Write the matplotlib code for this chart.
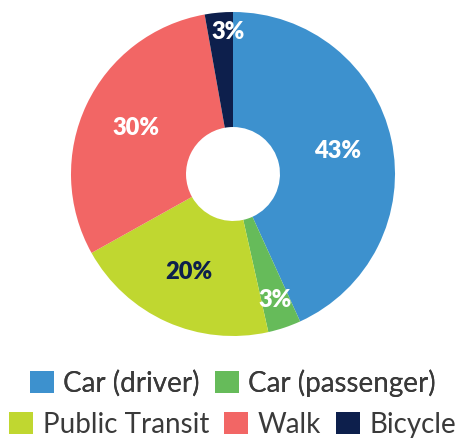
import numpy as np
import matplotlib.pyplot as plt
from matplotlib.patches import Patch

modes = ["Car (driver)", "Car (passenger)", "Public Transit", "Walk", "Bicycle"]
shares = [43.2, 3.3, 20.4, 30.3, 2.8]
colors = ["#3d91ce", "#66bb5a", "#c0d730", "#f26665", "#0d1f4c"]
label_colors = ["white", "white", "#0d1f4c", "white", "white"]
label_radius = [0.66, 0.82, 0.66, 0.66, 0.88]

plt.rcParams["font.family"] = ["Lato", "DejaVu Sans"]

fig = plt.figure(figsize=(4.66, 4.42), dpi=100)
ax = fig.add_axes([71 / 466, 106 / 442, 324 / 466, 324 / 442])

wedges, _ = ax.pie(shares, colors=colors, startangle=90, counterclock=False,
                   radius=1, wedgeprops=dict(width=0.71, linewidth=0))
ax.set_xlim(-1, 1)
ax.set_ylim(-1, 1)
ax.axis("off")

for i, (w, v, c, r) in enumerate(zip(wedges, shares, label_colors, label_radius)):
    mid = np.deg2rad((w.theta1 + w.theta2) / 2)
    x, y = r * np.cos(mid), r * np.sin(mid)
    if i == 4:
        x += 0.05  # label sits a bit right of the thin slice in the original
    ax.text(x, y, f"{round(v)}%", ha="center", va="center", fontsize=17,
            fontweight="heavy", color=c)

handles = [Patch(facecolor=c, edgecolor="none") for c in colors]
kw = dict(loc="center", frameon=False, fontsize=20, handlelength=0.85, handleheight=0.85,
          handletextpad=0.35, columnspacing=0.55, borderpad=0, labelcolor="#3a3a3a")
leg1 = fig.legend(handles[:2], modes[:2], bbox_to_anchor=(0.5, 1 - 383 / 442), ncol=2, **kw)
fig.add_artist(leg1)
fig.legend(handles[2:], modes[2:], bbox_to_anchor=(0.5, 1 - 425 / 442), ncol=3, **kw)

fig.savefig("out.png", dpi=100)
